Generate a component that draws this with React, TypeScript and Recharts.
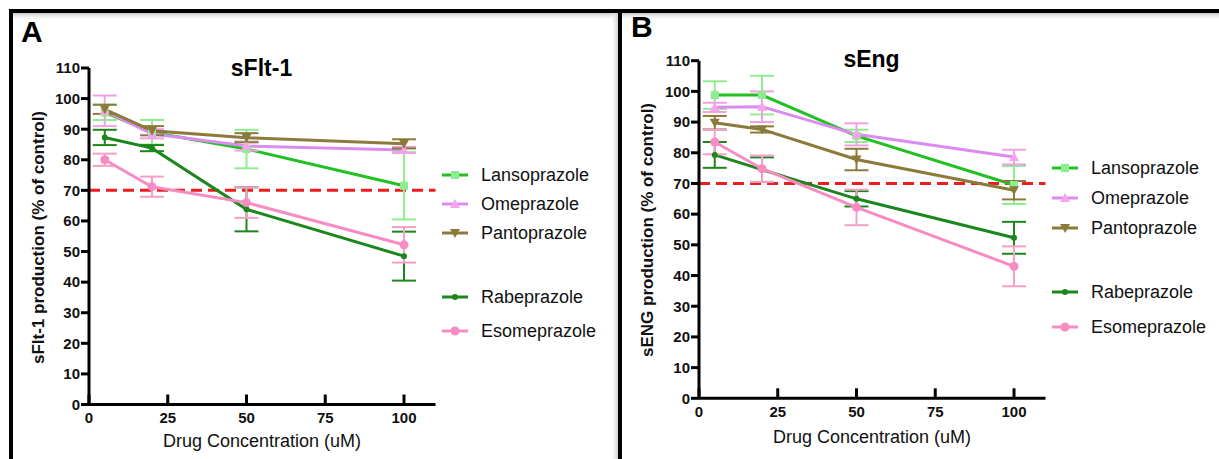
import React from 'react';
import { LineChart, Line, XAxis, YAxis, ErrorBar, ReferenceLine, Legend } from 'recharts';

// ---------- data ----------
const concentrations = [5, 20, 50, 100];
const xTicks = [0, 25, 50, 75, 100];
const yTicks = [0, 10, 20, 30, 40, 50, 60, 70, 80, 90, 100, 110];
const threshold = 70;

const seriesNames = ['Lansoprazole', 'Omeprazole', 'Pantoprazole', 'Rabeprazole', 'Esomeprazole'];

// Panel A: sFlt-1
const sflt1Lansoprazole = [95.5, 89, 83.5, 71.5];
const sflt1LansoprazoleErr = [2.5, 4, 6.3, 11];
const sflt1Omeprazole = [96, 88.5, 84.5, 83.2];
const sflt1OmeprazoleErr = [5, 1.5, 1.5, 1];
const sflt1Pantoprazole = [96.5, 89.5, 87.2, 85.2];
const sflt1PantoprazoleErr = [1.5, 1.5, 1.5, 1.5];
const sflt1Rabeprazole = [87.3, 83.8, 63.8, 48.5];
const sflt1RabeprazoleErr = [2.5, 1, 7.2, 8];
const sflt1Esomeprazole = [80, 71.2, 66, 52.2];
const sflt1EsomeprazoleErr = [2, 3.3, 5, 5.8];

// Panel B: sEng
const sengLansoprazole = [98.8, 98.8, 85.5, 69.5];
const sengLansoprazoleErr = [4.5, 6.3, 2, 6.2];
const sengOmeprazole = [94.8, 95, 86, 78.6];
const sengOmeprazoleErr = [1.5, 5, 3.6, 2.4];
const sengPantoprazole = [89.8, 87.6, 77.8, 67.8];
const sengPantoprazoleErr = [2.2, 1, 3.5, 3];
const sengRabeprazole = [79.3, 74.5, 65, 52.3];
const sengRabeprazoleErr = [4.2, 4, 2.5, 5.2];
const sengEsomeprazole = [83.5, 74.8, 62.2, 43];
const sengEsomeprazoleErr = [4, 4.3, 5.8, 6.5];

// ---------- styles ----------
const FONT = 'Arial, "Liberation Sans", sans-serif';
const seriesStyle = [
  { key: 'lanso', color: '#22c022', fill: '#90ec90', err: '#90ec90', shape: 'square' },
  { key: 'omep', color: '#dc8cf0', fill: '#f4a4ec', err: '#f0a0e4', shape: 'triangle' },
  { key: 'panto', color: '#8b7a3a', fill: '#8b7a3a', err: '#8b7a3a', shape: 'triangleDown' },
  { key: 'rabe', color: '#1b861b', fill: '#1b861b', err: '#1b861b', shape: 'dot' },
  { key: 'esom', color: '#f78cc2', fill: '#f78cc2', err: '#f4a0c8', shape: 'circle' },
];

function buildRows(values: number[][], errs: number[][]) {
  return concentrations.map((c, i) => {
    const row: any = { conc: c };
    seriesStyle.forEach((s, j) => {
      row[s.key] = values[j][i];
      row[s.key + '_err'] = errs[j][i];
    });
    return row;
  });
}

const dataA = buildRows(
  [sflt1Lansoprazole, sflt1Omeprazole, sflt1Pantoprazole, sflt1Rabeprazole, sflt1Esomeprazole],
  [sflt1LansoprazoleErr, sflt1OmeprazoleErr, sflt1PantoprazoleErr, sflt1RabeprazoleErr, sflt1EsomeprazoleErr]
);
const dataB = buildRows(
  [sengLansoprazole, sengOmeprazole, sengPantoprazole, sengRabeprazole, sengEsomeprazole],
  [sengLansoprazoleErr, sengOmeprazoleErr, sengPantoprazoleErr, sengRabeprazoleErr, sengEsomeprazoleErr]
);

const Marker = ({ shape, cx, cy, fill }: any) => {
  if (cx == null || cy == null) return null;
  switch (shape) {
    case 'square':
      return <rect x={cx - 4} y={cy - 4} width={8} height={8} fill={fill} />;
    case 'triangle':
      return <polygon points={`${cx},${cy - 5} ${cx + 5},${cy + 4} ${cx - 5},${cy + 4}`} fill={fill} />;
    case 'triangleDown':
      return <polygon points={`${cx - 5},${cy - 4} ${cx + 5},${cy - 4} ${cx},${cy + 5}`} fill={fill} />;
    case 'dot':
      return <circle cx={cx} cy={cy} r={3} fill={fill} />;
    default:
      return <circle cx={cx} cy={cy} r={4.5} fill={fill} />;
  }
};

const XTick = (props: any) => {
  const { x, y, payload } = props;
  return (
    <g>
      <line x1={x} x2={x} y1={y} y2={y - 10} stroke="#000" strokeWidth={3} />
      <text x={x} y={y + 13} textAnchor="middle" dominantBaseline="central" fontSize={15} fontWeight="bold" fontFamily={FONT} fill="#111">
        {payload.value}
      </text>
    </g>
  );
};

const LegendBox = ({ rows }: { rows: number[] }) => (
  <svg width={180} height={190} style={{ overflow: 'visible', display: 'block' }}>
    {seriesStyle.map((s, i) => {
      const y = rows[i];
      return (
        <g key={s.key}>
          <line x1={1} x2={27} y1={y} y2={y} stroke={s.color} strokeWidth={3} />
          <Marker shape={s.shape} cx={14} cy={y} fill={s.fill} />
          <text x={40} y={y} dominantBaseline="central" fontSize={18} fontFamily={FONT} fill="#111">
            {seriesNames[i]}
          </text>
        </g>
      );
    })}
  </svg>
);

const Panel = ({ data, left, width, margin, legendPos, legendRows }: any) => (
  <div style={{ position: 'absolute', left, top: 0 }}>
    <LineChart width={width} height={459} data={data} margin={margin}>
      <XAxis
        dataKey="conc"
        type="number"
        domain={[0, 110]}
        ticks={xTicks}
        height={30}
        tickSize={0}
        tickMargin={0}
        tickLine={false}
        axisLine={{ stroke: '#000', strokeWidth: 3 }}
        tick={<XTick />}
      />
      <YAxis
        type="number"
        domain={[0, 110]}
        ticks={yTicks}
        width={60}
        tickSize={8}
        tickMargin={1}
        axisLine={{ stroke: '#000', strokeWidth: 3 }}
        tickLine={{ stroke: '#000', strokeWidth: 3 }}
        tick={{ fontSize: 15, fontWeight: 'bold', fontFamily: FONT, fill: '#111' }}
        interval={0}
      />
      <ReferenceLine y={threshold} stroke="#ee1c1c" strokeWidth={3} strokeDasharray="11 6" />
      {seriesStyle.map((s, i) => (
        <Line
          key={s.key}
          name={seriesNames[i]}
          type="linear"
          dataKey={s.key}
          stroke={s.color}
          strokeWidth={3}
          isAnimationActive={false}
          activeDot={false}
          dot={(p: any) => <Marker key={`${s.key}-${p.index}`} shape={s.shape} cx={p.cx} cy={p.cy} fill={s.fill} />}
        >
          <ErrorBar dataKey={s.key + '_err'} direction="y" stroke={s.err} strokeWidth={2} width={12} isAnimationActive={false} />
        </Line>
      ))}
      <Legend
        layout="horizontal"
        verticalAlign="middle"
        align="center"
        wrapperStyle={{ left: legendPos.left, top: legendPos.top, width: 180, height: 190 }}
        content={() => <LegendBox rows={legendRows} />}
      />
    </LineChart>
  </div>
);

export default function App() {
  return (
    <div style={{ position: 'absolute', left: 0, top: 0, width: 1219, height: 459, background: '#fff', overflow: 'hidden', fontFamily: FONT }}>
      <Panel
        data={dataA}
        left={0}
        width={620}
        margin={{ top: 68, right: 184.5, bottom: 24.5, left: 29 }}
        legendPos={{ left: 441, top: 160 }}
        legendRows={[15, 44, 73, 137, 171]}
      />
      <Panel
        data={dataB}
        left={620}
        width={599}
        margin={{ top: 60.7, right: 173.5, bottom: 30.7, left: 19 }}
        legendPos={{ left: 431, top: 153 }}
        legendRows={[15, 45, 75, 139, 174]}
      />
      <svg width={1219} height={459} style={{ position: 'absolute', left: 0, top: 0, pointerEvents: 'none' }}>
        <defs>
          <linearGradient id="shadowDown" x1="0" y1="0" x2="0" y2="1">
            <stop offset="0" stopColor="#c8c8c8" />
            <stop offset="1" stopColor="#ffffff" stopOpacity="0" />
          </linearGradient>
          <linearGradient id="shadowLeft" x1="1" y1="0" x2="0" y2="0">
            <stop offset="0" stopColor="#d0d0d0" />
            <stop offset="1" stopColor="#ffffff" stopOpacity="0" />
          </linearGradient>
        </defs>
        <rect x={13} y={13} width={1206} height={8} fill="url(#shadowDown)" />
        <rect x={610} y={13} width={8} height={446} fill="url(#shadowLeft)" />
        <rect x={9} y={9} width={1210} height={4} fill="#000" />
        <rect x={9} y={9} width={4} height={450} fill="#000" />
        <rect x={618} y={9} width={4} height={450} fill="#000" />

        <text x={21} y={42} fontSize={30} fontWeight="bold" fontFamily={FONT} fill="#000">A</text>
        <text x={631} y={37} fontSize={30} fontWeight="bold" fontFamily={FONT} fill="#000">B</text>

        <text x={261.5} y={76} textAnchor="middle" fontSize={23} fontWeight="bold" fontFamily={FONT} fill="#000">sFlt-1</text>
        <text x={871.5} y={67} textAnchor="middle" fontSize={23} fontWeight="bold" fontFamily={FONT} fill="#000">sEng</text>

        <text x={262} y={447} textAnchor="middle" fontSize={18} fontFamily={FONT} fill="#111">Drug Concentration (uM)</text>
        <text x={872} y={443} textAnchor="middle" fontSize={18} fontFamily={FONT} fill="#111">Drug Concentration (uM)</text>

        <text transform="translate(44,237.5) rotate(-90)" textAnchor="middle" fontSize={17} fontWeight="bold" fontFamily={FONT} fill="#111">
          sFlt-1 production (% of control)
        </text>
        <text transform="translate(653,230) rotate(-90)" textAnchor="middle" fontSize={17} fontWeight="bold" fontFamily={FONT} fill="#111">
          sENG production (% of control)
        </text>
      </svg>
    </div>
  );
}
